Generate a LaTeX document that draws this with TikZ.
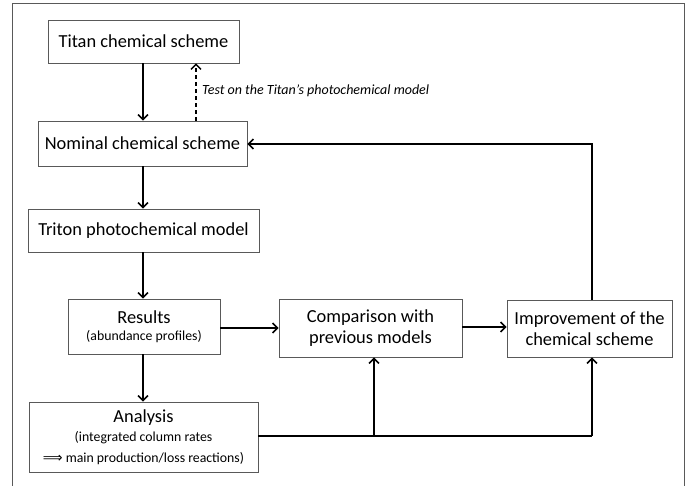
\documentclass[tikz,border=0pt]{standalone}
\usepackage{fontspec}
\setmainfont{Carlito}
\newfontfamily\myarrowfont{DejaVu Sans}
\usetikzlibrary{arrows.meta}
\newcommand\mysubsz{\fontsize{13.8}{16.5}\selectfont}
\begin{document}
\begin{tikzpicture}[x=1pt,y=-1pt,
  box/.style={draw=black!65, line width=0.8pt, fill=white, inner sep=0pt, align=center,
    font=\fontsize{18.4}{21.5}\selectfont},
  conn/.style={line width=1.7pt, -{Straight Barb[length=5pt,width=10pt,line width=1.5pt]}},
  plain/.style={line width=1.7pt},
  dconn/.style={line width=1.4pt, dash pattern=on 4pt off 3pt, -{Straight Barb[length=5pt,width=10pt,line width=1.4pt]}},
  lbl/.style={font=\itshape\fontsize{14}{17}\selectfont, anchor=west, inner sep=0pt}
]
\useasboundingbox (0,0) rectangle (694,486);
\draw[draw=black!65, line width=0.8pt] (12,3) rectangle (684,492);

\node[box, minimum width=191pt, minimum height=43pt] (titan) at (143.5,41.5) {Titan chemical scheme};
\node[box, minimum width=209pt, minimum height=45pt] (nominal) at (142.5,143.5) {Nominal chemical scheme};
\node[box, minimum width=231pt, minimum height=43pt] (triton) at (143.5,230.5) {Triton photochemical model};
\node[box, minimum width=152pt, minimum height=55pt] (results) at (144,326.5) {Results\\[-4pt]\mysubsz (abundance profiles)};
\node[box, minimum width=229pt, minimum height=70pt] (analysis) at (143.5,437) {Analysis\\[-2.5pt]\mysubsz (integrated column rates\\[-0.5pt] \mysubsz{\myarrowfont ⟹} main production/loss reactions)};
\node[box, minimum width=183pt, minimum height=58pt] (comp) at (370.5,328) {Comparison with\\previous models};
\node[box, minimum width=165pt, minimum height=57pt] (impr) at (589.5,328.5) {Improvement of the\\chemical scheme};

\coordinate (tA) at (143,63);
\draw[conn] (titan.south -| tA) -- (nominal.north -| tA);
\coordinate (dX) at (196,0);
\draw[dconn] (nominal.north -| dX) -- (titan.south -| dX);
\node[lbl] (test) at (202,91) {Test on the Titan’s photochemical model};
\draw[conn] (nominal.south -| tA) -- (triton.north -| tA);
\draw[conn] (triton.south -| tA) -- (results.north -| tA);
\draw[conn] (results.south -| tA) -- (analysis.north -| tA);

\coordinate (r1) at (0,328);
\draw[conn] (results.east |- r1) -- (comp.west |- r1);
\coordinate (r2) at (0,327);
\draw[conn] (comp.east |- r2) -- (impr.west |- r2);

\coordinate (iX) at (592,0);
\coordinate (top) at (592,144);
\draw[conn] (impr.north -| iX) -- (top) -- (nominal.east |- top);

\coordinate (bot) at (592,436);
\coordinate (br) at (374,436);
\draw[plain] (analysis.east |- bot) -- (bot);
\draw[conn] (bot) -- (impr.south -| iX);
\draw[conn] (br) -- (comp.south -| br);
\end{tikzpicture}
\end{document}
